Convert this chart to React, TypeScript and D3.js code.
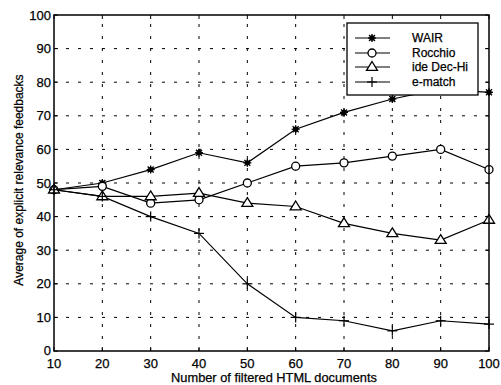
import React from "react";
import * as d3 from "d3";

const xValues = [10, 20, 30, 40, 50, 60, 70, 80, 90, 100];
const wair = [48, 50, 54, 59, 56, 66, 71, 75, 78, 77];
const rocchio = [48, 49, 44, 45, 50, 55, 56, 58, 60, 54];
const ideDecHi = [48, 46, 46, 47, 44, 43, 38, 35, 33, 39];
const eMatch = [48, 46, 40, 35, 20, 10, 9, 6, 9, 8];
const seriesNames = ["WAIR", "Rocchio", "ide Dec-Hi", "e-match"];
const xTicks = [10, 20, 30, 40, 50, 60, 70, 80, 90, 100];
const yTicks = [0, 10, 20, 30, 40, 50, 60, 70, 80, 90, 100];
const xLabel = "Number of filtered HTML documents";
const yLabel = "Average of explicit relevance feedbacks";

const W = 501, H = 385;
const L = 54, R = 489, T = 15, B = 351;
const FONT = "'Liberation Sans', Arial, sans-serif";

function Marker({ kind, x, y }: { kind: number; x: number; y: number }) {
  if (kind === 0) {
    return (
      <g stroke="#000" strokeWidth={1.3}>
        <line x1={x - 4} y1={y} x2={x + 4} y2={y} />
        <line x1={x} y1={y - 4} x2={x} y2={y + 4} />
        <line x1={x - 3} y1={y - 3} x2={x + 3} y2={y + 3} />
        <line x1={x - 3} y1={y + 3} x2={x + 3} y2={y - 3} />
        <circle cx={x} cy={y} r={2} fill="#000" />
      </g>
    );
  }
  if (kind === 1) {
    return <circle cx={x} cy={y} r={4} fill="#fff" stroke="#000" strokeWidth={1.3} />;
  }
  if (kind === 2) {
    const s = 5.5;
    return (
      <path
        d={`M${x},${y - s}L${x + s},${y + s * 0.6}L${x - s},${y + s * 0.6}Z`}
        fill="#fff"
        stroke="#000"
        strokeWidth={1.3}
      />
    );
  }
  return (
    <g stroke="#000" strokeWidth={1.2}>
      <line x1={x - 5} y1={y} x2={x + 5} y2={y} />
      <line x1={x} y1={y - 5} x2={x} y2={y + 5} />
    </g>
  );
}

export default function App() {
  const x = d3.scaleLinear().domain([10, 100]).range([L, R]);
  const y = d3.scaleLinear().domain([0, 100]).range([B, T]);
  const data = [wair, rocchio, ideDecHi, eMatch];
  const line = d3
    .line<number>()
    .x((_, i) => x(xValues[i]))
    .y((d) => y(d));

  const legX = 347, legY = 23, legW = 131, legH = 72;
  const rowY = [38, 53, 67, 82];
  const textStyle = { stroke: "#000", strokeWidth: 0.25 };

  return (
    <svg
      width={W}
      height={H}
      style={{ position: "absolute", left: 0, top: 0, background: "#fff" }}
      fontFamily={FONT}
    >
      <rect x={0} y={0} width={W} height={H} fill="#fff" />
      {/* grid */}
      <g stroke="#000" strokeWidth={1} strokeDasharray="3,9">
        {xTicks.slice(1, -1).map((t) => (
          <line key={"gx" + t} x1={x(t)} x2={x(t)} y1={B} y2={T} />
        ))}
        {yTicks.slice(1, -1).map((t) => (
          <line key={"gy" + t} x1={L} x2={R} y1={y(t)} y2={y(t)} />
        ))}
      </g>
      {/* ticks */}
      <g stroke="#000" strokeWidth={1}>
        {xTicks.map((t) => (
          <g key={"tx" + t}>
            <line x1={x(t)} x2={x(t)} y1={B} y2={B - 4} />
            <line x1={x(t)} x2={x(t)} y1={T} y2={T + 4} />
          </g>
        ))}
        {yTicks.map((t) => (
          <g key={"ty" + t}>
            <line x1={L} x2={L + 4} y1={y(t)} y2={y(t)} />
            <line x1={R} x2={R - 4} y1={y(t)} y2={y(t)} />
          </g>
        ))}
      </g>
      {/* lines */}
      {data.map((s, k) => (
        <path key={"l" + k} d={line(s) || ""} fill="none" stroke="#000" strokeWidth={1.2} />
      ))}
      {data.map((s, k) =>
        s.map((v, i) => <Marker key={`m${k}-${i}`} kind={k} x={x(xValues[i])} y={y(v)} />)
      )}
      {/* frame */}
      <rect x={L} y={T} width={R - L} height={B - T} fill="none" stroke="#000" strokeWidth={1.5} />
      {/* legend */}
      <rect x={legX} y={legY} width={legW} height={legH} fill="#fff" stroke="#000" strokeWidth={1.3} />
      {seriesNames.map((n, k) => (
        <g key={"leg" + k}>
          <line x1={355} x2={390} y1={rowY[k]} y2={rowY[k]} stroke="#000" strokeWidth={1.2} />
          <Marker kind={k} x={372} y={rowY[k]} />
          <text x={412} y={rowY[k] + 4} fontSize={12} fill="#000" {...textStyle}>
            {n}
          </text>
        </g>
      ))}
      {/* tick labels */}
      {xTicks.map((t) => (
        <text key={"xl" + t} x={x(t)} y={B + 16.5} fontSize={13} textAnchor="middle" fill="#000" {...textStyle}>
          {t}
        </text>
      ))}
      {yTicks.map((t) => (
        <text
          key={"yl" + t}
          x={L - 3}
          y={t === 0 ? y(t) + 3.5 : y(t) + 4.5}
          fontSize={13}
          textAnchor="end"
          fill="#000"
          {...textStyle}
        >
          {t}
        </text>
      ))}
      <text x={274} y={382} fontSize={12.8} textAnchor="middle" fill="#000" {...textStyle}>
        {xLabel}
      </text>
      <text
        transform={`translate(23,180) rotate(-90)`}
        fontSize={12}
        textAnchor="middle"
        fill="#000"
        {...textStyle}
      >
        {yLabel}
      </text>
    </svg>
  );
}
